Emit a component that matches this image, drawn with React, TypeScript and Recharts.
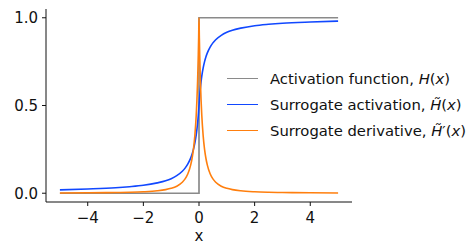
import { Line, LineChart, XAxis, YAxis } from "recharts";

const xs = [
  -5, -4, -3, -2.5, -2, -1.5, -1.2, -1, -0.8, -0.6, -0.5, -0.4, -0.3, -0.25, -0.2, -0.15, -0.1, -0.075, -0.05,
  -0.025, -0.0125, 0, 0.0125, 0.025, 0.05, 0.075, 0.1, 0.15, 0.2, 0.25, 0.3, 0.4, 0.5, 0.6, 0.8, 1, 1.2, 1.5, 2,
  2.5, 3, 4, 5,
];
const surrogate = [
  0.019, 0.024, 0.031, 0.037, 0.045, 0.059, 0.071, 0.083, 0.1, 0.125, 0.143, 0.167, 0.2, 0.222, 0.25, 0.286,
  0.333, 0.364, 0.4, 0.444, 0.471, 0.5, 0.529, 0.556, 0.6, 0.636, 0.667, 0.714, 0.75, 0.778, 0.8, 0.833, 0.857,
  0.875, 0.9, 0.917, 0.929, 0.941, 0.955, 0.963, 0.969, 0.976, 0.981,
];
const derivative = [
  0.0015, 0.0023, 0.0039, 0.0055, 0.0083, 0.0138, 0.0204, 0.0278, 0.04, 0.0625, 0.0816, 0.111, 0.16, 0.198, 0.25,
  0.327, 0.444, 0.529, 0.64, 0.79, 0.886, 1, 0.886, 0.79, 0.64, 0.529, 0.444, 0.327, 0.25, 0.198, 0.16, 0.111,
  0.0816, 0.0625, 0.04, 0.0278, 0.0204, 0.0138, 0.0083, 0.0055, 0.0039, 0.0023, 0.0015,
];
const stepX = [-5, 0, 0, 5];
const stepY = [0, 0, 1, 1];
const xTicks = [-4, -2, 0, 2, 4];
const yTicks = [0, 0.5, 1];

const curveData = xs.map((x, i) => ({ x, act: surrogate[i], der: derivative[i] }));
const stepData = stepX.map((x, i) => ({ x, h: stepY[i] }));

const GRAY = "#8a8a8a";
const BLUE = "#1148ff";
const ORANGE = "#ff7f0e";
const FONT = "'DejaVu Sans', sans-serif";

const fmtX = (v: number) => (v < 0 ? "\u2212" + Math.abs(v) : String(v));

function LegendBox() {
  const rows = [
    { color: GRAY, label: <>Activation function, <i>H</i>(<i>x</i>)</> },
    { color: BLUE, label: <>Surrogate activation, <i>H&#771;</i>(<i>x</i>)</> },
    { color: ORANGE, label: <>Surrogate derivative, <i>H&#771;</i>&#8242;(<i>x</i>)</> },
  ];
  return (
    <div
      style={{
        position: "absolute",
        left: 227,
        top: 65,
        fontFamily: FONT,
        fontSize: 14.8,
        color: "#111",
      }}
    >
      {rows.map((r, i) => (
        <div key={i} style={{ display: "flex", alignItems: "center", height: 26, whiteSpace: "nowrap" }}>
          <div style={{ width: 31, height: 0, borderTop: `1.6px solid ${r.color}`, marginRight: 12 }} />
          <span>{r.label}</span>
        </div>
      ))}
    </div>
  );
}

export default function App() {
  return (
    <div style={{ position: "fixed", left: 0, top: 0, width: 471, height: 244, background: "#fff" }}>
      <LineChart width={471} height={244} margin={{ top: 9, right: 119, left: 0, bottom: 0 }}>
        <XAxis
          dataKey="x"
          type="number"
          domain={[-5.5, 5.5]}
          ticks={xTicks}
          tickFormatter={fmtX}
          allowDuplicatedCategory={false}
          height={42}
          tickSize={4}
          tickMargin={6}
          stroke="#111"
          tick={{ fill: "#111", fontSize: 15, fontFamily: FONT }}
          label={{ value: "x", position: "insideBottom", offset: 3, fill: "#111", fontSize: 15, fontFamily: FONT }}
        />
        <YAxis
          type="number"
          domain={[-0.05, 1.05]}
          ticks={yTicks}
          tickFormatter={(v: number) => v.toFixed(1)}
          width={46}
          tickSize={4}
          tickMargin={4}
          stroke="#111"
          tick={{ fill: "#111", fontSize: 15, fontFamily: FONT }}
        />
        <Line data={stepData} dataKey="h" stroke={GRAY} strokeWidth={1.7} dot={false} type="linear" isAnimationActive={false} />
        <Line data={curveData} dataKey="act" stroke={BLUE} strokeWidth={1.6} dot={false} type="monotone" isAnimationActive={false} />
        <Line data={curveData} dataKey="der" stroke={ORANGE} strokeWidth={1.6} dot={false} type="monotone" isAnimationActive={false} />
      </LineChart>
      <LegendBox />
    </div>
  );
}
